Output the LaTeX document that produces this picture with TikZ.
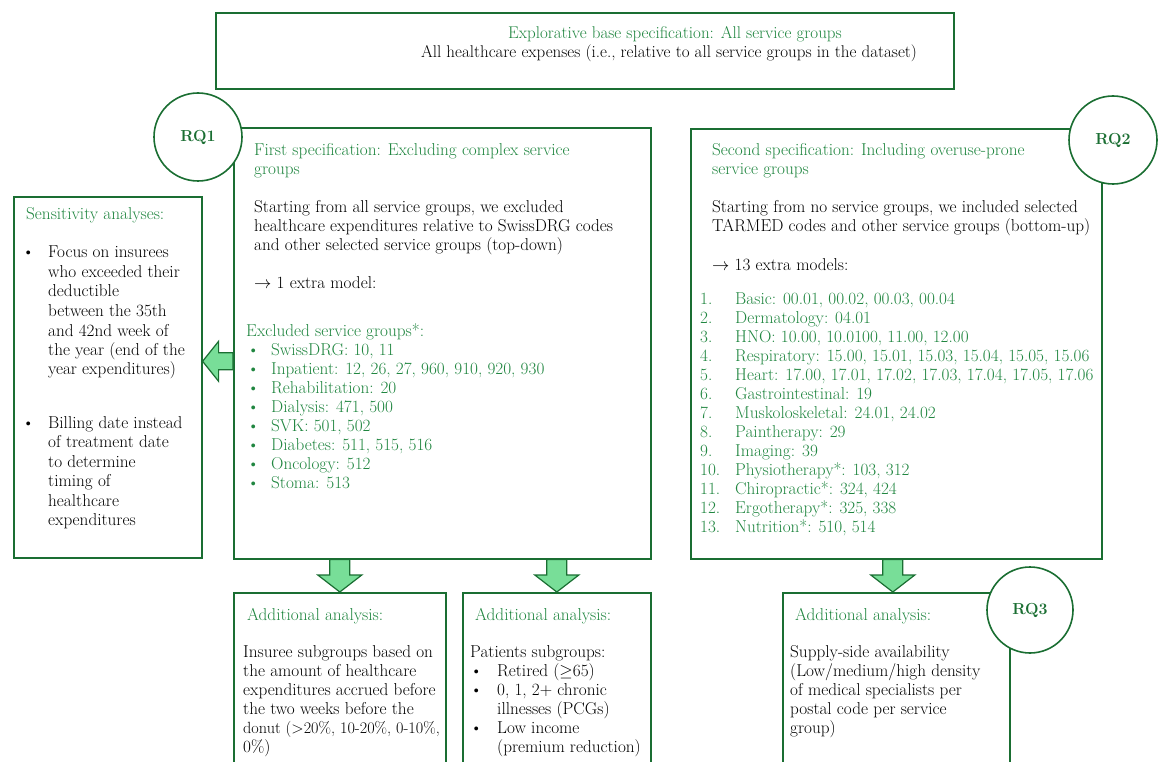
\documentclass[tikz,border=0pt]{standalone}
\usetikzlibrary{calc}
\definecolor{dgreen}{RGB}{26,110,50}
\definecolor{tgreen}{RGB}{32,134,64}
\definecolor{afill}{RGB}{120,222,152}
\newcommand\lns[1]{\begin{tabular}[t]{@{}l@{}}#1\end{tabular}}
\tikzset{
  box/.style={draw=dgreen, line width=1.6pt, fill=white, inner sep=0pt, anchor=north west},
  rq/.style={circle, draw=dgreen, line width=1.6pt, fill=white, minimum size=88pt, inner sep=0pt,
    font=\fontsize{16}{19}\selectfont\bfseries, text=dgreen},
  txt/.style={anchor=base west, inner sep=0pt, text=black},
  gtxt/.style={txt, text=tgreen},
  barrow/.style={fill=afill, draw=dgreen, line width=1.2pt, line join=miter},
}
\newcommand\downblk[2]{%
  \filldraw[barrow] let \p1=(#1), \p2=(#2) in
    (\x1-10pt,\y1) -- (\x1-10pt,\y2+17pt) -- (\x1-22pt,\y2+17pt) -- (\x1,\y2)
    -- (\x1+22pt,\y2+17pt) -- (\x1+10pt,\y2+17pt) -- (\x1+10pt,\y1) -- cycle;}
\begin{document}
\begin{tikzpicture}[x=1pt, y=-1pt, font=\fontsize{17.2}{19}\selectfont]
\useasboundingbox (0,0) rectangle (1159,762);
\clip (0,0) rectangle (1159,762);
% boxes
\node[box, minimum width=738pt, minimum height=76pt] (base) at (215,12) {};
\node[box, minimum width=417pt, minimum height=431pt] (mid) at (233,127) {};
\node[box, minimum width=188pt, minimum height=361pt] (sens) at (13,196) {};
\node[box, minimum width=411pt, minimum height=430pt] (second) at (690,128) {};
\node[box, minimum width=212pt, minimum height=220pt] (boxA) at (233,592) {};
\node[box, minimum width=188pt, minimum height=220pt] (boxB) at (462,592) {};
\node[box, minimum width=227pt, minimum height=220pt] (boxC) at (782,592) {};
% block arrows
\coordinate (lsrc) at ($(mid.west)+(0,18)$);
\coordinate (ltip) at (sens.east |- lsrc);
\filldraw[barrow] let \p1=(lsrc), \p2=(ltip) in
  (\x1,\y1+8.5pt) -- (\x2+16pt,\y1+8.5pt) -- (\x2+16pt,\y1+20pt) -- (\x2,\y1)
  -- (\x2+16pt,\y1-20pt) -- (\x2+16pt,\y1-8.5pt) -- (\x1,\y1-8.5pt) -- cycle;
\coordinate (tA) at (boxA.north);
\coordinate (sA) at (tA |- mid.south);
\coordinate (tB) at (boxB.north);
\coordinate (sB) at (tB |- mid.south);
\coordinate (tC) at ([xshift=-3.5pt]boxC.north);
\coordinate (sC) at (tC |- second.south);
\downblk{sA}{tA}
\downblk{sB}{tB}
\downblk{sC}{tC}
% RQ circles
\node[rq] (rq1) at (198,137) {RQ1};
\node[rq] (rq2) at (1113,140) {RQ2};
\node[rq, minimum size=86pt] (rq3) at (1030,610) {RQ3};
% top box text
\node[anchor=base, inner sep=0pt, text=tgreen, font=\fontsize{17}{19}\selectfont] (baseT1) at (675,39)
  {Explorative base specification: All service groups};
\node[anchor=base, inner sep=0pt, font=\fontsize{17}{19}\selectfont] (baseT2) at (669,58)
  {All healthcare expenses (i.e., relative to all service groups in the dataset)};
% first specification
\node[gtxt] (m1) at (254,156) {\lns{First specification: Excluding complex service\\groups}};
\node[txt] (m2) at (254,213) {\lns{Starting from all service groups, we excluded\\healthcare expenditures relative to SwissDRG codes\\and other selected service groups (top-down)}};
\node[txt] (m3) at (254,288) {$\rightarrow$ 1 extra model:};
\node[gtxt] (m4) at (246,336) {Excluded service groups*:};
\node[gtxt] (m5) at (247,355) {\begin{tabular}[t]{@{}p{24pt}@{}l@{}}
  \textbullet & SwissDRG: 10, 11\\
  \textbullet & Inpatient: 12, 26, 27, 960, 910, 920, 930\\
  \textbullet & Rehabilitation: 20\\
  \textbullet & Dialysis: 471, 500\\
  \textbullet & SVK: 501, 502\\
  \textbullet & Diabetes: 511, 515, 516\\
  \textbullet & Oncology: 512\\
  \textbullet & Stoma: 513\end{tabular}};
% sensitivity analyses
\node[gtxt] (s1) at (26,220) {Sensitivity analyses:};
\node[txt, font=\fontsize{17.2}{19.5}\selectfont] (s2) at (22,258) {\begin{tabular}[t]{@{}p{26pt}@{}l@{}}
  \textbullet & Focus on insurees\\ & who exceeded their\\ & deductible\\ & between the 35th\\
  & and 42nd week of\\ & the year (end of the\\ & year expenditures)\end{tabular}};
\node[txt, font=\fontsize{17.2}{19.5}\selectfont] (s3) at (22,428) {\begin{tabular}[t]{@{}p{26pt}@{}l@{}}
  \textbullet & Billing date instead\\ & of treatment date\\ & to determine\\ & timing of\\
  & healthcare\\ & expenditures\end{tabular}};
% second specification
\node[gtxt] (r1) at (712,156) {\lns{Second specification: Including overuse-prone\\service groups}};
\node[txt] (r2) at (712,213) {\lns{Starting from no service groups, we included selected\\TARMED codes and other service groups (bottom-up)}};
\node[txt] (r3) at (712,270) {$\rightarrow$ 13 extra models:};
\node[gtxt] (r4) at (700,304) {\begin{tabular}[t]{@{}p{35pt}@{}l@{}}
  1. & Basic: 00.01, 00.02, 00.03, 00.04\\
  2. & Dermatology: 04.01\\
  3. & HNO: 10.00, 10.0100, 11.00, 12.00\\
  4. & Respiratory: 15.00, 15.01, 15.03, 15.04, 15.05, 15.06\\
  5. & Heart: 17.00, 17.01, 17.02, 17.03, 17.04, 17.05, 17.06\\
  6. & Gastrointestinal: 19\\
  7. & Muskoloskeletal: 24.01, 24.02\\
  8. & Paintherapy: 29\\
  9. & Imaging: 39\\
  10. & Physiotherapy*: 103, 312\\
  11. & Chiropractic*: 324, 424\\
  12. & Ergotherapy*: 325, 338\\
  13. & Nutrition*: 510, 514\end{tabular}};
% additional analyses
\node[gtxt] (a1) at (247,620) {Additional analysis:};
\node[txt] (a2) at (243,657) {\lns{Insuree subgroups based on\\the amount of healthcare\\expenditures accrued before\\the two weeks before the\\{\fontsize{16.2}{19}\selectfont donut (>20\%, 10-20\%, 0-10\%,}\\0\%)}};
\node[gtxt] (b1) at (475,620) {Additional analysis:};
\node[txt] (b2) at (470,657) {\begin{tabular}[t]{@{}p{27pt}@{}l@{}}
  \multicolumn{2}{@{}l@{}}{Patients subgroups:}\\
  \textbullet & Retired ($\geq$65)\\
  \textbullet & 0, 1, 2+ chronic\\ & illnesses (PCGs)\\
  \textbullet & Low income\\ & (premium reduction)\end{tabular}};
\node[gtxt] (c1) at (795,620) {Additional analysis:};
\node[txt] (c2) at (790,657) {\lns{Supply-side availability\\(Low/medium/high density\\of medical specialists per\\postal code per service\\group)}};
\end{tikzpicture}
\end{document}
